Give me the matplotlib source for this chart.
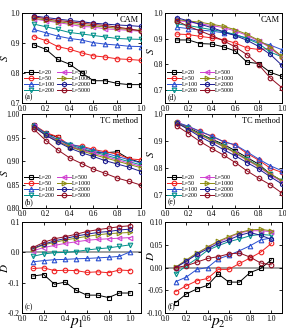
import numpy as np
import matplotlib
matplotlib.use('Agg')
import matplotlib.pyplot as plt

plt.rcParams['font.family'] = ['Liberation Serif', 'DejaVu Serif']
plt.rcParams['mathtext.fontset'] = 'stix'

p = [0.1, 0.2, 0.3, 0.4, 0.5, 0.6, 0.7, 0.8, 0.9, 1.0]
labels = ['L=20', 'L=50', 'L=100', 'L=200', 'L=500', 'L=1000', 'L=2000', 'L=5000']

# panel (a): S, CAM, vs p1
S_cam_p1 = [
    [0.894, 0.879, 0.845, 0.829, 0.801, 0.774, 0.774, 0.765, 0.761, 0.761],
    [0.921, 0.908, 0.888, 0.879, 0.867, 0.857, 0.853, 0.847, 0.845, 0.842],
    [0.945, 0.934, 0.923, 0.915, 0.910, 0.901, 0.896, 0.893, 0.889, 0.888],
    [0.963, 0.954, 0.945, 0.935, 0.930, 0.925, 0.920, 0.915, 0.913, 0.912],
    [0.980, 0.974, 0.968, 0.962, 0.955, 0.953, 0.947, 0.945, 0.942, 0.939],
    [0.982, 0.977, 0.971, 0.966, 0.961, 0.957, 0.953, 0.949, 0.945, 0.942],
    [0.990, 0.985, 0.980, 0.975, 0.971, 0.966, 0.963, 0.960, 0.958, 0.955],
    [0.987, 0.981, 0.975, 0.971, 0.966, 0.962, 0.958, 0.953, 0.947, 0.940],
]
# panel (b): S, TC method, vs p1
S_tc_p1 = [
    [0.977, 0.959, 0.951, 0.931, 0.925, 0.918, 0.918, 0.920, 0.905, 0.897],
    [0.977, 0.961, 0.952, 0.934, 0.932, 0.925, 0.920, 0.915, 0.905, 0.903],
    [0.976, 0.959, 0.946, 0.937, 0.930, 0.923, 0.917, 0.910, 0.903, 0.896],
    [0.975, 0.958, 0.945, 0.935, 0.927, 0.920, 0.913, 0.906, 0.899, 0.892],
    [0.974, 0.956, 0.944, 0.932, 0.924, 0.917, 0.910, 0.903, 0.896, 0.889],
    [0.973, 0.955, 0.942, 0.931, 0.922, 0.914, 0.907, 0.900, 0.893, 0.886],
    [0.973, 0.955, 0.941, 0.928, 0.918, 0.910, 0.901, 0.894, 0.887, 0.878],
    [0.968, 0.944, 0.924, 0.907, 0.895, 0.883, 0.874, 0.864, 0.857, 0.849],
]
# panel (c): D vs p1
D_p1 = [
    [-0.078, -0.073, -0.105, -0.098, -0.125, -0.141, -0.141, -0.149, -0.134, -0.134],
    [-0.053, -0.051, -0.060, -0.059, -0.060, -0.066, -0.064, -0.067, -0.058, -0.060],
    [-0.031, -0.027, -0.024, -0.023, -0.021, -0.020, -0.018, -0.016, -0.013, 0.002],
    [-0.013, -0.005, -0.001, 0.000, 0.003, 0.008, 0.012, 0.015, 0.020, 0.025],
    [0.005, 0.016, 0.023, 0.030, 0.035, 0.040, 0.043, 0.045, 0.047, 0.049],
    [0.011, 0.025, 0.033, 0.041, 0.047, 0.053, 0.058, 0.062, 0.064, 0.066],
    [0.013, 0.027, 0.038, 0.046, 0.054, 0.060, 0.066, 0.069, 0.074, 0.077],
    [0.016, 0.033, 0.045, 0.052, 0.060, 0.069, 0.075, 0.080, 0.085, 0.088],
]
# panel (d): S, CAM, vs p2
S_cam_p2 = [
    [0.895, 0.895, 0.881, 0.879, 0.868, 0.852, 0.809, 0.803, 0.769, 0.753],
    [0.918, 0.916, 0.909, 0.903, 0.896, 0.883, 0.864, 0.858, 0.862, 0.830],
    [0.945, 0.939, 0.934, 0.929, 0.923, 0.914, 0.903, 0.887, 0.875, 0.857],
    [0.958, 0.951, 0.943, 0.935, 0.927, 0.917, 0.900, 0.881, 0.848, 0.829],
    [0.971, 0.965, 0.958, 0.951, 0.943, 0.930, 0.913, 0.891, 0.865, 0.829],
    [0.974, 0.969, 0.964, 0.956, 0.948, 0.935, 0.917, 0.894, 0.868, 0.831],
    [0.982, 0.969, 0.956, 0.943, 0.927, 0.912, 0.894, 0.870, 0.839, 0.796],
    [0.969, 0.948, 0.930, 0.912, 0.892, 0.868, 0.838, 0.799, 0.747, 0.709],
]
# panel (e): S, TC method, vs p2
S_tc_p2 = [
    [0.968, 0.950, 0.928, 0.907, 0.888, 0.864, 0.839, 0.814, 0.777, 0.752],
    [0.970, 0.953, 0.936, 0.917, 0.898, 0.885, 0.854, 0.829, 0.799, 0.783],
    [0.970, 0.955, 0.936, 0.919, 0.898, 0.886, 0.860, 0.833, 0.808, 0.789],
    [0.968, 0.948, 0.926, 0.905, 0.882, 0.857, 0.833, 0.808, 0.777, 0.750],
    [0.967, 0.946, 0.923, 0.901, 0.879, 0.855, 0.829, 0.804, 0.774, 0.748],
    [0.967, 0.946, 0.924, 0.902, 0.880, 0.857, 0.831, 0.806, 0.777, 0.752],
    [0.968, 0.943, 0.916, 0.893, 0.868, 0.845, 0.820, 0.796, 0.767, 0.740],
    [0.957, 0.928, 0.898, 0.872, 0.848, 0.820, 0.789, 0.762, 0.737, 0.706],
]
# panel (f): D vs p2
D_p2 = [
    [-0.077, -0.058, -0.047, -0.039, -0.014, -0.032, -0.032, -0.011, -0.002, 0.017],
    [-0.053, -0.040, -0.029, -0.024, -0.004, -0.004, 0.009, 0.021, 0.034, 0.053],
    [-0.031, -0.021, -0.004, 0.000, 0.019, 0.027, 0.037, 0.048, 0.061, 0.065],
    [-0.014, 0.004, 0.020, 0.038, 0.048, 0.057, 0.063, 0.070, 0.073, 0.071],
    [0.000, 0.015, 0.030, 0.045, 0.056, 0.066, 0.076, 0.081, 0.081, 0.079],
    [0.001, 0.017, 0.032, 0.045, 0.058, 0.068, 0.077, 0.083, 0.084, 0.081],
    [0.000, 0.014, 0.029, 0.041, 0.053, 0.061, 0.071, 0.077, 0.071, 0.062],
    [0.000, 0.004, 0.012, 0.020, 0.024, 0.030, 0.032, 0.023, 0.010, 0.006],
]

colors = ['#000000', '#f02020', '#2a4fd0', '#00908a', '#d040d0', '#8c8c10', '#1c1c90', '#900c20']
markers = ['s', 'o', '^', 'v', '<', '>', 'h', 'o']

fig = plt.figure(figsize=(2.86, 3.33), dpi=100)

lx, rx = 0.077, 0.577
w_l, w_r = 0.416, 0.409
rows = [(0.691, 0.270), (0.375, 0.282), (0.060, 0.273)]

# tag, data, left, width, row, ylim, yticks, tick format, title, ylabel height
panels = [
    ('a', S_cam_p1, lx, w_l, 0, (0.7, 1.0), [0.7, 0.8, 0.9, 1.0], '%.1f', 'CAM', 0.5),
    ('b', S_tc_p1, lx, w_l, 1, (0.80, 1.00), [0.80, 0.85, 0.90, 0.95, 1.00], '%.2f', 'TC method', 0.37),
    ('c', D_p1, lx, w_l, 2, (-0.2, 0.1), [-0.2, -0.1, 0.0, 0.1], '%.1f', None, 0.5),
    ('d', S_cam_p2, rx, w_r, 0, (0.65, 1.0), [0.7, 0.8, 0.9, 1.0], '%.1f', 'CAM', 0.57),
    ('e', S_tc_p2, rx, w_r, 1, (0.65, 1.0), [0.7, 0.8, 0.9, 1.0], '%.1f', 'TC method', 0.57),
    ('f', D_p2, rx, w_r, 2, (-0.10, 0.10), [-0.10, -0.05, 0.00, 0.05, 0.10], '%.2f', None, 0.63),
]

for tag, data, x0, w, r, ylim, yticks, fmt, title, ly in panels:
    b, h = rows[r]
    ax = fig.add_axes([x0, b, w, h])
    if r == 2:
        ax.axhline(0, color='#909090', lw=1.2, zorder=1)
    for i in range(8):
        ax.plot(p, data[i], color=colors[i], marker=markers[i], ms=3.3,
                mfc='none', mew=0.8, lw=0.7, label=labels[i], zorder=3)
    ax.set_ylim(*ylim)
    ax.set_yticks(yticks)
    ax.set_yticklabels([fmt % t for t in yticks])
    lab_x = -0.10 if x0 == lx else -0.08
    if r == 2:
        ax.set_xlim(0, 1.1)
        ax.set_ylabel('$D$', fontsize=8)
        ax.set_xlabel('$p_1$' if x0 == lx else '$p_2$', fontsize=11)
        ax.xaxis.set_label_coords(0.455, -0.03)
    else:
        ax.set_xlim(0, 1.0)
        ax.set_ylabel('$S$', fontsize=8)
    ax.yaxis.set_label_coords(lab_x, ly)
    ax.set_xticks([0.0, 0.2, 0.4, 0.6, 0.8, 1.0])
    ax.set_xticklabels(['0.0', '0.2', '0.4', '0.6', '0.8', '1.0'])
    ax.tick_params(direction='in', top=True, right=True, labelsize=5.5,
                   length=2, width=0.6, pad=1.5)
    for s in ax.spines.values():
        s.set_linewidth(0.7)
    ax.text(0.02, 0.02, '(%s)' % tag, transform=ax.transAxes, fontsize=5.5,
            ha='left', va='bottom')
    if title:
        ax.text(0.98, 0.97, title, transform=ax.transAxes, fontsize=6,
                ha='right', va='top')
        ax.legend(ncol=2, loc='lower left', bbox_to_anchor=(0.0, 0.09),
                  fontsize=4.3, frameon=False, handlelength=2.4,
                  handletextpad=0.2, columnspacing=0.2, labelspacing=0.15,
                  borderpad=0.2, borderaxespad=0.1)

fig.savefig('out.png', dpi=100)
